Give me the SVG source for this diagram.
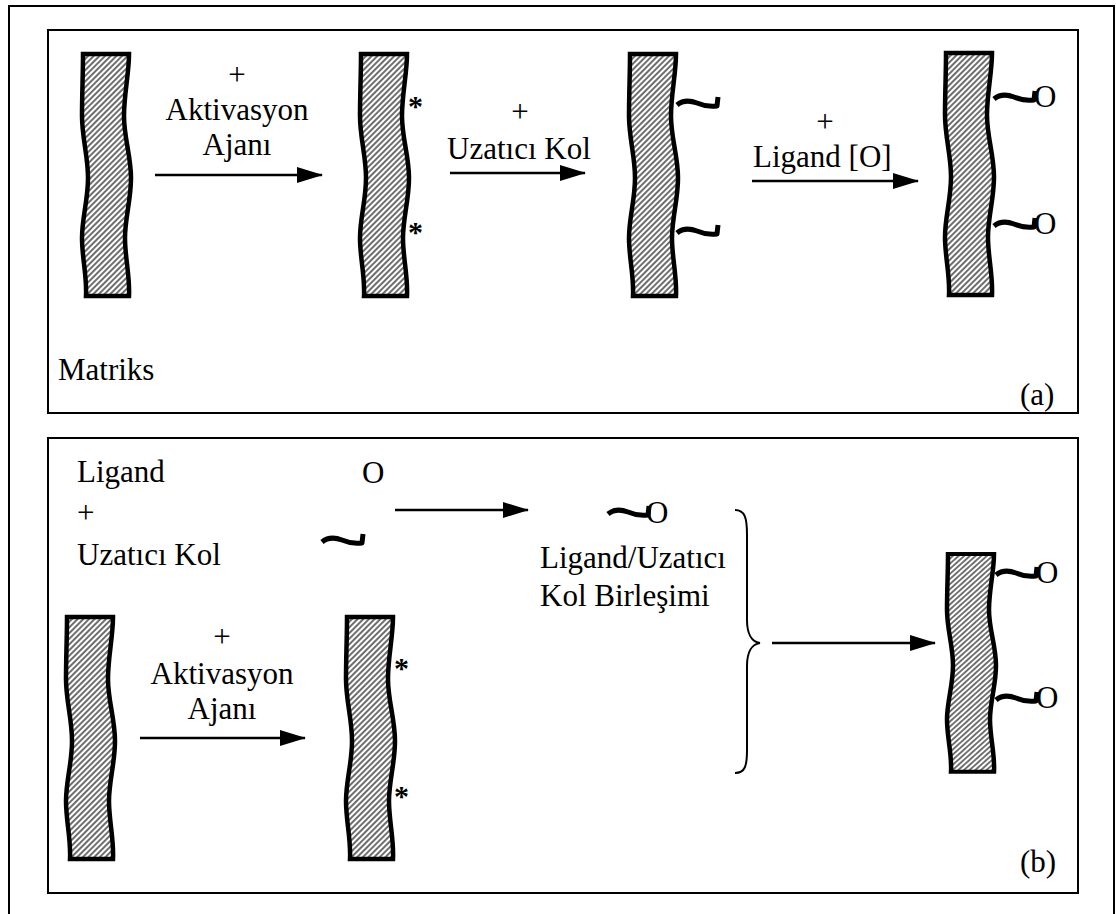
<svg xmlns="http://www.w3.org/2000/svg" xmlns:xlink="http://www.w3.org/1999/xlink" width="1116" height="914" viewBox="0 0 1116 914" font-family="'Liberation Serif', 'Times New Roman', 'DejaVu Serif', serif">
<style>
.t{font-family:"Liberation Serif","Times New Roman","DejaVu Serif",serif;font-size:31px;fill:#000}
.c{text-anchor:middle}
.ast{font-family:"Liberation Serif","Times New Roman","DejaVu Serif",serif;font-size:30px;font-weight:bold;fill:#000}
.box{fill:none;stroke:#000;stroke-width:2}
.arr{fill:none;stroke:#000;stroke-width:2.5;marker-end:url(#ah)}
.sq{fill:none;stroke:#000;stroke-width:5;stroke-linejoin:round}
.mx{fill:url(#hatch);stroke:#000;stroke-width:4.5}
.br{fill:none;stroke:#000;stroke-width:2}
</style>
<defs>
<pattern id="hatch" width="4" height="4" patternUnits="userSpaceOnUse" patternTransform="rotate(45)">
<rect width="4" height="4" fill="#fff"/>
<line x1="1" y1="0" x2="1" y2="4" stroke="#555" stroke-width="1.7"/>
</pattern>
<marker id="ah" markerWidth="26" markerHeight="16" refX="25" refY="8" orient="auto" markerUnits="userSpaceOnUse">
<path d="M0,0 L26,8 L0,16 Z" fill="#000"/>
</marker>
<path id="mxp" class="mx" d="M0,0 H46 C46,20 41,40 41,62 C41,84 48,102 48,124 C48,146 42,164 42,184 C42,204 47,222 46,242 H3 C4,222 -1,204 -1,184 C-1,164 5,146 5,124 C5,102 -1,84 -1,62 C-1,40 0,20 0,0 Z"/>
<path id="sqp" class="sq" d="M0,3 C6,-2 12,-2 20,1 C27,4 33,5 40,4 L41,-5"/>
</defs>

<rect class="box" x="9" y="6" width="1105" height="920"/>

<g id="panel-a">
<rect class="box" x="48" y="30" width="1030" height="383"/>
<g id="a-matrix1"><use xlink:href="#mxp" x="83" y="54"/></g>
<text class="t" x="58" y="380">Matriks</text>
<g id="a-label1">
<text class="t c" x="237" y="85">+</text>
<text class="t c" x="237" y="120">Aktivasyon</text>
<text class="t c" x="237" y="155">Ajanı</text>
</g>
<g id="a-matrix2"><use xlink:href="#mxp" x="361" y="54"/>
<text class="ast" x="408" y="116">*</text>
<text class="ast" x="408" y="242">*</text>
</g>
<g id="a-label2">
<text class="t c" x="520" y="122">+</text>
<text class="t" x="447" y="159">Uzatıcı Kol</text>
</g>
<g id="a-matrix3"><use xlink:href="#mxp" x="630" y="54"/>
<use xlink:href="#sqp" x="677" y="102"/>
<use xlink:href="#sqp" x="677" y="230"/>
</g>
<g id="a-label3">
<text class="t c" x="825" y="132">+</text>
<text class="t" x="753" y="167">Ligand [O]</text>
</g>
<g id="a-matrix4"><use xlink:href="#mxp" x="946" y="53"/>
<use xlink:href="#sqp" x="994" y="96"/>
<text class="t" x="1034" y="107">O</text>
<use xlink:href="#sqp" x="994" y="223"/>
<text class="t" x="1034" y="234">O</text>
</g>
<text class="t" x="1020" y="405">(a)</text>
</g>

<g id="panel-b">
<rect class="box" x="48" y="438" width="1030" height="455"/>
<g id="b-ligand">
<text class="t" x="77" y="482">Ligand</text>
<text class="t" x="362" y="483">O</text>
<text class="t" x="77" y="523">+</text>
<text class="t" x="77" y="565">Uzatıcı Kol</text>
<use xlink:href="#sqp" x="322" y="539"/>
</g>
<g id="b-conj">
<use xlink:href="#sqp" x="608" y="511"/>
<text class="t" x="646" y="523">O</text>
<text class="t" x="540" y="568">Ligand/Uzatıcı</text>
<text class="t" x="540" y="606">Kol Birleşimi</text>
</g>
<g id="b-matrix1"><use xlink:href="#mxp" x="67" y="617"/></g>
<g id="b-label1">
<text class="t c" x="222" y="647">+</text>
<text class="t c" x="222" y="684">Aktivasyon</text>
<text class="t c" x="222" y="719">Ajanı</text>
</g>
<g id="b-matrix2"><use xlink:href="#mxp" x="347" y="617"/>
<text class="ast" x="394" y="678">*</text>
<text class="ast" x="394" y="806">*</text>
</g>
<g id="b-brace"><path class="br" d="M735,510 C745,510 747,518 747,535 L747,620 C747,634 752,642 760,643 C752,644 747,652 747,666 L747,750 C747,766 745,773 735,773"/></g>
<g id="b-matrix3"><use xlink:href="#mxp" transform="translate(948,554) scale(1,0.9)"/>
<use xlink:href="#sqp" x="996" y="572"/>
<text class="t" x="1036" y="583">O</text>
<use xlink:href="#sqp" x="996" y="697"/>
<text class="t" x="1036" y="708">O</text>
</g>
<text class="t" x="1020" y="872">(b)</text>
</g>

<g id="connectors">
<line class="arr" x1="155" y1="175" x2="322" y2="175"/>
<line class="arr" x1="450" y1="173" x2="585" y2="173"/>
<line class="arr" x1="752" y1="181" x2="918" y2="181"/>
<line class="arr" x1="395" y1="510" x2="528" y2="510"/>
<line class="arr" x1="772" y1="643" x2="935" y2="643"/>
<line class="arr" x1="140" y1="738" x2="305" y2="738"/>
</g>
</svg>
